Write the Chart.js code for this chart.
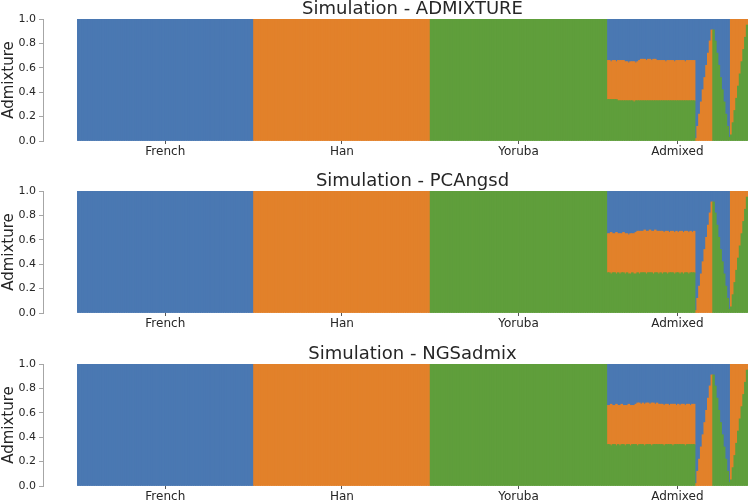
<!DOCTYPE html>
<html>
<head>
<meta charset="utf-8">
<script src="https://cdn.jsdelivr.net/npm/chart.js@4.4.1/dist/chart.umd.min.js"></script>
<style>
  html, body { margin: 0; padding: 0; background: #ffffff; width: 749px; height: 503px; overflow: hidden; }
  .panel { position: absolute; left: 0; width: 749px; height: 163px; }
</style>
</head>
<body>
<div class="panel" style="top:0px"><canvas id="c1" width="749" height="163"></canvas></div>
<div class="panel" style="top:172px"><canvas id="c2" width="749" height="163"></canvas></div>
<div class="panel" style="top:345px"><canvas id="c3" width="749" height="163"></canvas></div>
<script>
// ---------------- DATA ----------------
const groupNames = ['French', 'Han', 'Yoruba', 'Admixed'];
const groupSizes = [100, 100, 100, 80];
const tickValues = [49.5, 149.5, 249.5, 339.5];
const yTicks = [0.0, 0.2, 0.4, 0.6, 0.8, 1.0];
const panelTitles = ['Simulation - ADMIXTURE', 'Simulation - PCAngsd', 'Simulation - NGSadmix'];

// pure populations: [green, orange, blue]
const pureGroupProps = [[0, 0, 1], [0, 1, 0], [1, 0, 0]];

// Admixed: first 50 individuals (three-way mix), per method
const admixtureBlockGreen = [0.34,0.34,0.34,0.34,0.34,0.34,0.33,0.33,0.33,0.33, 0.33,0.33,0.33,0.33,0.33,0.32,0.33,0.33,0.33,0.33, 0.33,0.33,0.33,0.33,0.33,0.33,0.33,0.33,0.33,0.33, 0.33,0.33,0.33,0.33,0.33,0.33,0.33,0.33,0.33,0.33, 0.33,0.33,0.33,0.33,0.33,0.33,0.33,0.33,0.33,0.33];
const admixtureBlockOrange = [0.32,0.32,0.31,0.32,0.32,0.31,0.33,0.33,0.33,0.33, 0.32,0.32,0.31,0.32,0.32,0.33,0.31,0.32,0.33,0.34, 0.34,0.34,0.33,0.34,0.34,0.33,0.34,0.34,0.33,0.33, 0.33,0.33,0.33,0.32,0.33,0.33,0.33,0.33,0.32,0.33, 0.33,0.33,0.33,0.33,0.32,0.33,0.33,0.33,0.33,0.33];
const admixtureBlockBlue = [0.34,0.34,0.35,0.34,0.34,0.35,0.34,0.34,0.34,0.34, 0.35,0.35,0.36,0.35,0.35,0.35,0.36,0.35,0.34,0.33, 0.33,0.33,0.34,0.33,0.33,0.34,0.33,0.33,0.34,0.34, 0.34,0.34,0.34,0.35,0.34,0.34,0.34,0.34,0.35,0.34, 0.34,0.34,0.34,0.34,0.35,0.34,0.34,0.34,0.34,0.34];

const pcangsdBlockGreen = [0.33,0.33,0.32,0.33,0.33,0.32,0.33,0.32,0.33,0.33, 0.32,0.33,0.32,0.32,0.33,0.32,0.32,0.33,0.32,0.33, 0.33,0.33,0.32,0.33,0.33,0.33,0.32,0.33,0.33,0.32, 0.33,0.32,0.33,0.33,0.32,0.33,0.33,0.33,0.32,0.33, 0.33,0.32,0.33,0.32,0.33,0.33,0.32,0.33,0.33,0.33];
const pcangsdBlockOrange = [0.32,0.32,0.34,0.32,0.32,0.34,0.32,0.33,0.32,0.33, 0.33,0.32,0.32,0.33,0.32,0.33,0.34,0.34,0.35,0.34, 0.34,0.35,0.35,0.34,0.35,0.34,0.35,0.35,0.34,0.35, 0.34,0.35,0.33,0.34,0.35,0.33,0.34,0.34,0.34,0.34, 0.33,0.35,0.34,0.34,0.34,0.34,0.34,0.34,0.33,0.34];
const pcangsdBlockBlue = [0.35,0.35,0.34,0.35,0.35,0.34,0.35,0.35,0.35,0.34, 0.35,0.35,0.36,0.35,0.35,0.35,0.34,0.33,0.33,0.33, 0.33,0.32,0.33,0.33,0.32,0.33,0.33,0.32,0.33,0.33, 0.33,0.33,0.34,0.33,0.33,0.34,0.33,0.33,0.34,0.33, 0.34,0.33,0.33,0.34,0.33,0.33,0.34,0.33,0.34,0.33];

const ngsadmixBlockGreen = [0.34,0.34,0.33,0.34,0.34,0.33,0.34,0.33,0.34,0.34, 0.33,0.34,0.34,0.33,0.34,0.34,0.34,0.33,0.34,0.34, 0.34,0.33,0.34,0.34,0.34,0.33,0.34,0.34,0.34,0.34, 0.34,0.34,0.33,0.34,0.34,0.34,0.34,0.33,0.34,0.34, 0.34,0.34,0.34,0.34,0.33,0.34,0.34,0.34,0.34,0.34];
const ngsadmixBlockOrange = [0.32,0.32,0.34,0.32,0.32,0.34,0.32,0.33,0.33,0.32, 0.33,0.32,0.33,0.33,0.32,0.32,0.33,0.35,0.34,0.33, 0.34,0.34,0.34,0.34,0.33,0.35,0.34,0.33,0.34,0.33, 0.33,0.33,0.33,0.33,0.33,0.32,0.33,0.34,0.33,0.32, 0.33,0.32,0.33,0.33,0.33,0.33,0.33,0.32,0.33,0.33];
const ngsadmixBlockBlue = [0.34,0.34,0.33,0.34,0.34,0.33,0.34,0.34,0.33,0.34, 0.34,0.34,0.33,0.34,0.34,0.34,0.33,0.32,0.32,0.33, 0.32,0.33,0.32,0.32,0.33,0.32,0.32,0.33,0.32,0.33, 0.33,0.33,0.34,0.33,0.33,0.34,0.33,0.33,0.33,0.34, 0.33,0.34,0.33,0.33,0.34,0.33,0.33,0.34,0.33,0.33];

// Admixed: last 30 individuals (two-way clines), same in every method
const clineGreen  = [0,0,0,0,0,0,0,0,0,0, 0.91,0.82,0.72,0.62,0.52,0.42,0.32,0.22,0.12,0.03, 0.05,0.15,0.25,0.35,0.45,0.55,0.65,0.75,0.85,0.95];
const clineOrange = [0.02,0.12,0.22,0.32,0.42,0.52,0.62,0.72,0.82,0.91, 0,0,0,0,0,0,0,0,0,0, 0.95,0.85,0.75,0.65,0.55,0.45,0.35,0.25,0.15,0.05];
const clineBlue   = [0.98,0.88,0.78,0.68,0.58,0.48,0.38,0.28,0.18,0.09, 0.09,0.18,0.28,0.38,0.48,0.58,0.68,0.78,0.88,0.97, 0,0,0,0,0,0,0,0,0,0];

const methodBlocks = [
  [admixtureBlockGreen, admixtureBlockOrange, admixtureBlockBlue],
  [pcangsdBlockGreen, pcangsdBlockOrange, pcangsdBlockBlue],
  [ngsadmixBlockGreen, ngsadmixBlockOrange, ngsadmixBlockBlue]
];
const clines = [clineGreen, clineOrange, clineBlue];

// ---------------- STYLE ----------------
const colors = ['#5f9e3b', '#e2812a', '#4a78b2']; // green, orange, blue
const FONT = "'DejaVu Sans', sans-serif";
const TEXT = '#262626';
const PLOT_LEFT = 77;   // left edge of the bars
const SPINE_X = 43;     // detached y-axis spine position

function buildSeries(block) {
  const out = [[], [], []];
  pureGroupProps.forEach((p, k) => {
    for (let i = 0; i < groupSizes[k]; i++) for (let c = 0; c < 3; c++) out[c].push(p[c]);
  });
  for (let c = 0; c < 3; c++) out[c].push(...block[c], ...clines[c]);
  // zero shares are left out so no hairline is drawn for them
  return out.map(arr => arr.map((v, i) => ({ x: i, y: v === 0 ? null : v })));
}

const totalN = groupSizes.reduce((a, b) => a + b, 0);

// move the y-axis spine/ticks/labels left of the plot (seaborn "despine offset")
const offsetYAxis = {
  id: 'offsetYAxis',
  afterLayout(chart) {
    const s = chart.scales.y;
    s.left = 0;
    s.right = SPINE_X;
    s.width = SPINE_X;
  }
};

function makeChart(id, title, block) {
  const series = buildSeries(block);
  new Chart(document.getElementById(id), {
    type: 'bar',
    plugins: [offsetYAxis],
    data: {
      datasets: series.map((d, c) => ({
        data: d,
        backgroundColor: colors[c],
        borderWidth: 0,
        inflateAmount: 0.4,
        categoryPercentage: 1.0,
        barPercentage: 1.0
      }))
    },
    options: {
      responsive: false,
      animation: false,
      devicePixelRatio: 1,
      layout: { padding: { left: 0, right: 1, top: 0, bottom: 0 } },
      plugins: {
        legend: { display: false },
        tooltip: { enabled: false },
        title: {
          display: true,
          fullSize: false,
          text: title,
          color: TEXT,
          font: { family: FONT, size: 18, weight: 'normal', lineHeight: 1.0 },
          padding: { top: 0, bottom: 1 }
        }
      },
      scales: {
        x: {
          type: 'linear',
          stacked: true,
          offset: false,
          min: -0.5,
          max: totalN - 0.5,
          border: { display: false },
          grid: { display: true, offset: false, drawOnChartArea: false, drawTicks: true, tickLength: 3, color: '#555555' },
          ticks: {
            autoSkip: false, maxRotation: 0, padding: 1,
            color: TEXT, font: { family: FONT, size: 12 },
            callback: (v, i) => groupNames[i]
          },
          afterBuildTicks: s => { s.ticks = tickValues.map(v => ({ value: v })); },
          afterFit: s => { s.height = 22; }
        },
        y: {
          stacked: true,
          min: 0, max: 1,
          border: { display: true, color: '#a6a6a6', width: 1 },
          grid: { display: true, drawOnChartArea: false, drawTicks: true, tickLength: 4, color: '#a6a6a6' },
          ticks: {
            padding: 3, color: TEXT, font: { family: FONT, size: 11 },
            callback: v => Number(v).toFixed(1)
          },
          afterBuildTicks: s => { s.ticks = yTicks.map(v => ({ value: v })); },
          title: { display: true, text: 'Admixture', color: TEXT, font: { family: FONT, size: 15 }, padding: 0 },
          afterFit: s => { s.width = PLOT_LEFT; }
        }
      }
    }
  });
}

makeChart('c1', panelTitles[0], methodBlocks[0]);
makeChart('c2', panelTitles[1], methodBlocks[1]);
makeChart('c3', panelTitles[2], methodBlocks[2]);
</script>
</body>
</html>
